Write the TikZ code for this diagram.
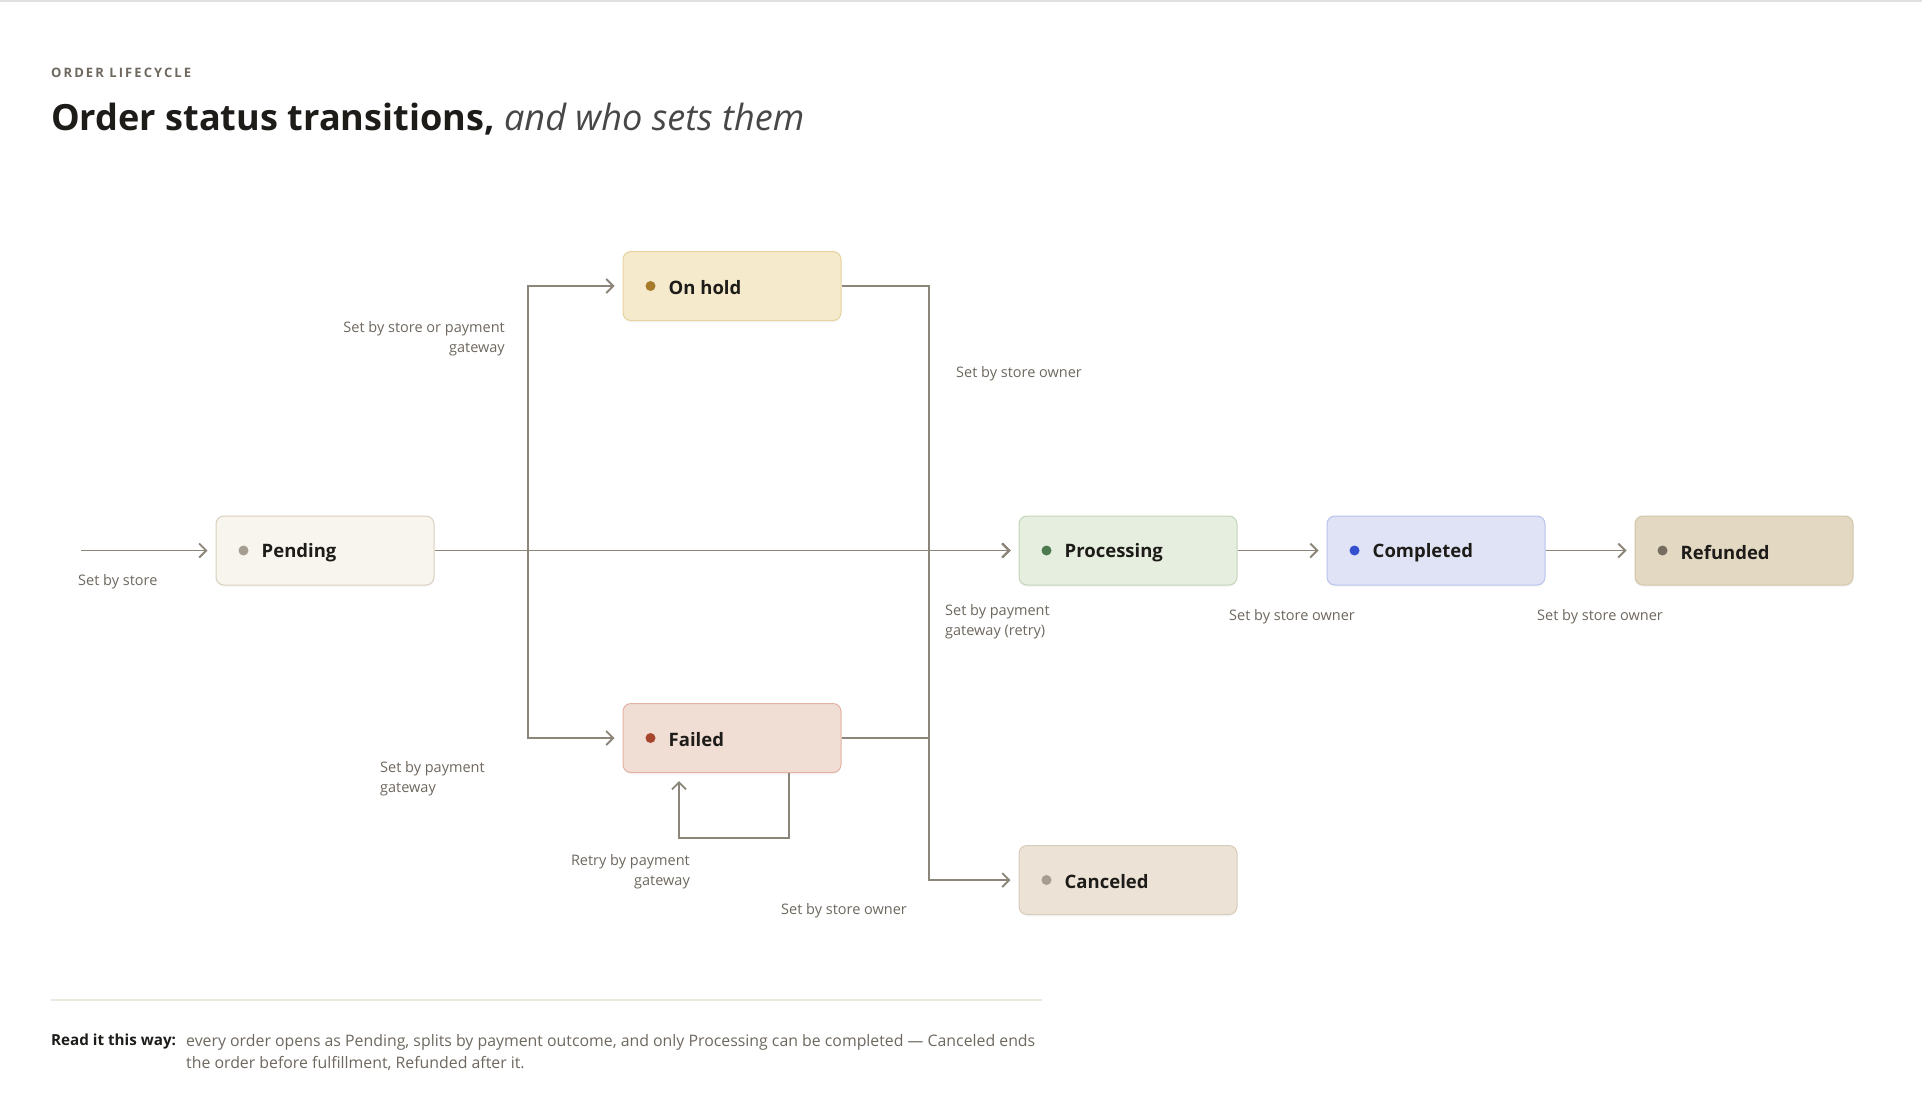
\documentclass[tikz,border=0pt]{standalone}
\usepackage{fontspec}
\setmainfont{Open Sans}
\usetikzlibrary{arrows.meta,calc,shadows}
\definecolor{linec}{HTML}{8C8579}
\definecolor{lblc}{HTML}{6E685F}
\definecolor{txtc}{HTML}{1E1C19}
\definecolor{pendF}{HTML}{F8F5EF}\definecolor{pendD}{HTML}{D9D0BF}\definecolor{pendO}{HTML}{A59E90}
\definecolor{holdF}{HTML}{F5EACB}\definecolor{holdD}{HTML}{E6D39E}\definecolor{holdO}{HTML}{A87B2C}
\definecolor{failF}{HTML}{F0DDD4}\definecolor{failD}{HTML}{E3B2A3}\definecolor{failO}{HTML}{A8452E}
\definecolor{procF}{HTML}{E6EEDF}\definecolor{procD}{HTML}{C4D4B8}\definecolor{procO}{HTML}{4B7A4F}
\definecolor{compF}{HTML}{DFE3F5}\definecolor{compD}{HTML}{B9C3EE}\definecolor{compO}{HTML}{3350D0}
\definecolor{refF}{HTML}{E3D9C3}\definecolor{refD}{HTML}{D2C5A8}\definecolor{refO}{HTML}{756D60}
\definecolor{canF}{HTML}{ECE3D6}\definecolor{canD}{HTML}{D7CCBA}\definecolor{canO}{HTML}{A69D90}
\tikzset{
  state/.style={rectangle, rounded corners=8pt, minimum width=218pt, minimum height=69pt, line width=1pt,
    drop shadow={opacity=0.06, shadow xshift=0pt, shadow yshift=-2pt}},
  statelabel/.style={anchor=west, font=\fontsize{18.5}{22}\selectfont\bfseries, text=txtc, inner sep=0pt},
  arr/.style={draw=linec, line width=1.8pt, -{Straight Barb[length=7pt,width=14pt,line width=1.8pt]}, shorten >=8pt},
  edgelbl/.style={font=\fontsize{14.5}{20}\selectfont, text=lblc, inner sep=0pt},
}
\newcommand\mydot[2]{\fill[#2] ([xshift=28pt]#1.west) circle (5pt);}
\begin{document}
\begin{tikzpicture}[x=1pt,y=-1pt]
\useasboundingbox (0,0) rectangle (1922,1114);
\fill[white] (0,0) rectangle (1922,1114);
\draw[black!12, line width=1.5pt] (0,0.8) -- (1922,0.8);
% header
\node[anchor=west, inner sep=0pt, font=\fontsize{13}{14}\selectfont\bfseries\addfontfeatures{LetterSpace=16}, text=lblc] (kicker) at (51,73) {ORDER LIFECYCLE};
\node[anchor=base west, inner sep=0pt, font=\fontsize{36.1}{40}\selectfont, text=txtc] (title) at (51,130)
  {\bfseries Order status transitions, \mdseries\itshape\color{black!72}and who sets them};
% states
\node[state, fill=pendF, draw=pendD] (pend) at (325,550.5) {};
\node[state, fill=holdF, draw=holdD] (hold) at (732,286) {};
\node[state, fill=failF, draw=failD] (fail) at (732,738) {};
\node[state, fill=procF, draw=procD] (proc) at (1128,550.5) {};
\node[state, fill=compF, draw=compD] (comp) at (1436,550.5) {};
\node[state, fill=refF, draw=refD] (ref) at (1744,550.5) {};
\node[state, fill=canF, draw=canD] (canc) at (1128,880) {};
\mydot{pend}{pendO}\mydot{hold}{holdO}\mydot{fail}{failO}\mydot{proc}{procO}\mydot{comp}{compO}\mydot{ref}{refO}\mydot{canc}{canO}
\node[statelabel] (pendl) at ([xshift=46pt,yshift=-2pt]pend.west) {Pending};
\node[statelabel] (holdl) at ([xshift=46pt,yshift=-2pt]hold.west) {On hold};
\node[statelabel] (faill) at ([xshift=46pt,yshift=-2pt]fail.west) {Failed};
\node[statelabel] (procl) at ([xshift=46pt,yshift=-2pt]proc.west) {Processing};
\node[statelabel] (compl) at ([xshift=46pt,yshift=-2pt]comp.west) {Completed};
\node[statelabel] (refl) at ([xshift=46pt,yshift=-2pt]ref.west) {Refunded};
\node[statelabel] (cancl) at ([xshift=46pt,yshift=-2pt]canc.west) {Canceled};
% connectors
\coordinate (start) at (81,550.5);
\coordinate (b1) at (528,550.5);
\coordinate (b2) at (929,550.5);
\draw[arr] (start) -- (pend.west);
\draw[arr] (pend.east) -- (proc.west);
\draw[arr] (b1) |- (hold.west);
\draw[arr] (b1) |- (fail.west);
\draw[arr] (hold.east) -| (b2) -- (proc.west);
\draw[arr] (fail.east) -| (b2) -- (proc.west);
\draw[arr] (fail.east) -- (fail.east -| b2) |- (canc.west);
\draw[arr] ([xshift=57pt]fail.south) -- ++(0,65) -| ([xshift=-53pt]fail.south);
\draw[arr] (proc.east) -- (comp.west);
\draw[arr] (comp.east) -- (ref.west);
% edge labels
\node[edgelbl, anchor=west] (l1) at (78,581.5) {Set by store};
\node[edgelbl, anchor=east, align=right] (l2) at (505,338.5) {Set by store or payment\\gateway};
\node[edgelbl, anchor=west, align=left] (l3) at (380,778.5) {Set by payment\\gateway};
\node[edgelbl, anchor=west] (l4) at (956,373.5) {Set by store owner};
\node[edgelbl, anchor=west, align=left] (l5) at (945,621.5) {Set by payment\\gateway (retry)};
\node[edgelbl, anchor=east, align=right] (l6) at (690,871.5) {Retry by payment\\gateway};
\node[edgelbl, anchor=west] (l7) at (781,910.5) {Set by store owner};
\node[edgelbl, anchor=west] (l8) at (1229,616.5) {Set by store owner};
\node[edgelbl, anchor=west] (l9) at (1537,616.5) {Set by store owner};
% footer
\draw[draw={rgb,255:red,236;green,232;blue,223}, line width=2pt] (51,1000) -- (1042,1000);
\node[anchor=north west, inner sep=0pt, font=\fontsize{15.2}{22}\selectfont\bfseries, text=txtc] (readl) at (51,1034) {Read it this way:};
\node[anchor=north west, inner sep=0pt, align=left, font=\fontsize{15.85}{22.5}\selectfont, text=lblc] (readt) at (186,1034)
  {every order opens as Pending, splits by payment outcome, and only Processing can be completed — Canceled ends\\the order before fulfillment, Refunded after it.};
\end{tikzpicture}
\end{document}
